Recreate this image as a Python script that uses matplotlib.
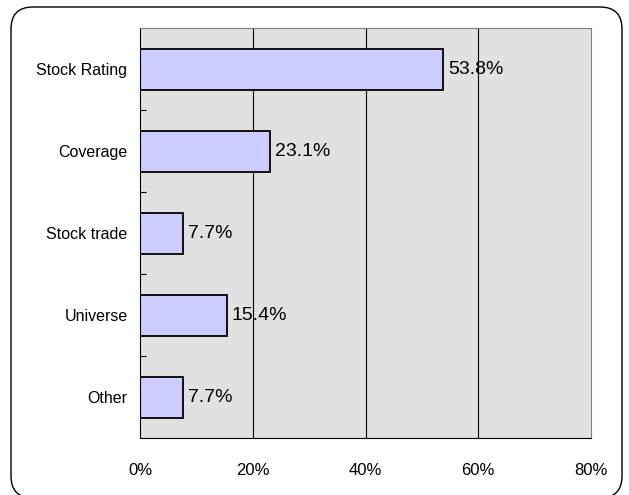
import matplotlib.pyplot as plt
from matplotlib.patches import FancyBboxPatch
from matplotlib.ticker import FixedLocator

categories = ['Stock Rating', 'Coverage', 'Stock trade', 'Universe', 'Other']
values = [53.8, 23.1, 7.7, 15.4, 7.7]
xticks = [0, 20, 40, 60, 80]
xtick_labels = ['0%', '20%', '40%', '60%', '80%']

font = ['Liberation Sans', 'DejaVu Sans']

fig = plt.figure(figsize=(6.29, 4.95), dpi=100)

# rounded frame round the whole chart (pixel coords, origin bottom-left)
frame = FancyBboxPatch((11, -3), 611, 491,
                       boxstyle='round,pad=0,rounding_size=22',
                       transform=None, facecolor='none',
                       edgecolor='black', linewidth=1.0, zorder=10)
fig.patches.append(frame)

ax = fig.add_axes([140 / 629, 1 - 438 / 495, 451 / 629, 410 / 495])
ax.set_facecolor('#e1e1e1')

pos = list(range(len(categories)))
ax.barh(pos, values, height=0.5, color='#ccccff', edgecolor='black',
        linewidth=1.3, zorder=3)

for p, v in zip(pos, values):
    ax.text(v + 0.8, p + 0.01, '%.1f%%' % v, va='center', ha='left',
            fontsize=14, family=font, zorder=4)

ax.set_xlim(0, 80)
ax.set_ylim(len(categories) - 0.5, -0.5)

ax.set_xticks(xticks)
ax.set_xticklabels(xtick_labels, family=font, fontsize=12)
ax.tick_params(axis='x', length=0, pad=18)

ax.set_yticks(pos)
ax.set_yticklabels(categories, family=font, fontsize=11.5)
ax.tick_params(axis='y', which='major', length=0, pad=9)
ax.yaxis.set_minor_locator(FixedLocator([0.5, 1.5, 2.5, 3.5]))
ax.tick_params(axis='y', which='minor', direction='in', length=4, width=0.8)

for x in xticks[1:-1]:
    ax.axvline(x, color='black', linewidth=0.8, zorder=2)

ax.spines['left'].set_color('black')
ax.spines['bottom'].set_color('black')
ax.spines['top'].set_color('#808080')
ax.spines['right'].set_color('#808080')
for s in ax.spines.values():
    s.set_zorder(5)

fig.savefig('out.png', dpi=100)
